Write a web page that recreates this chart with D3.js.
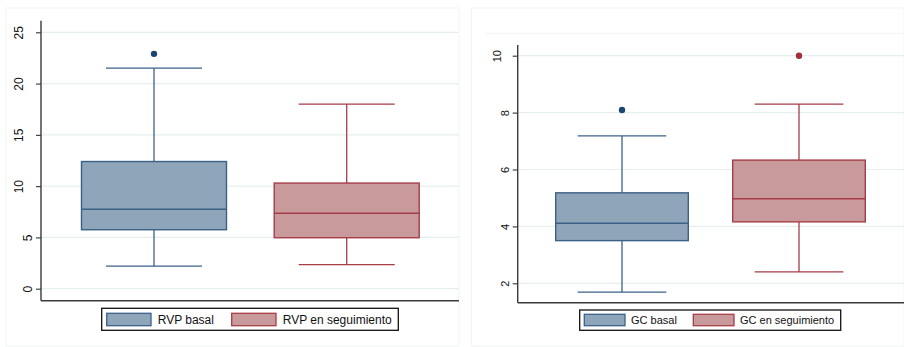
<!DOCTYPE html>
<html><head><meta charset="utf-8">
<script src="https://cdn.jsdelivr.net/npm/d3@7"></script>
<style>body{margin:0;background:#fff;}svg{display:block;font-family:"Liberation Sans",Arial,sans-serif;}</style>
</head><body>
<script>
// ---- data ----
const rvpCategories = ["RVP basal", "RVP en seguimiento"];
const rvpMin     = [2.2, 2.35];
const rvpQ1      = [5.75, 4.97];
const rvpMedian  = [7.75, 7.35];
const rvpQ3      = [12.4, 10.3];
const rvpMax     = [21.5, 18.0];
const rvpOutliers = [[22.9], []];
const rvpTicks   = [0, 5, 10, 15, 20, 25];

const gcCategories = ["GC basal", "GC en seguimiento"];
const gcMin      = [1.69, 2.4];
const gcQ1       = [3.5, 4.16];
const gcMedian   = [4.11, 4.97];
const gcQ3       = [5.18, 6.33];
const gcMax      = [7.18, 8.3];
const gcOutliers = [[8.09], [10.0]];
const gcTicks    = [2, 4, 6, 8, 10];

const fills   = ["#8fa5b9", "#c99a9c"];
const strokes = ["#3b6187", "#a63d47"];
const dots    = ["#1a476f", "#a1303a"];

const W = 904, H = 347;
const svg = d3.select("body").append("svg").attr("width", W).attr("height", H);

function panel(cfg) {
  const g = svg.append("g");
  // faint panel frame
  g.append("rect").attr("x", cfg.frame[0]).attr("y", cfg.frame[1])
    .attr("width", cfg.frame[2] - cfg.frame[0]).attr("height", cfg.frame[3] - cfg.frame[1])
    .attr("fill", "#fff").attr("stroke", "#f1f3f3").attr("stroke-width", 1);
  if (cfg.topLine) {
    g.append("line").attr("x1", cfg.topLine[0]).attr("x2", cfg.topLine[1])
      .attr("y1", cfg.topLine[2]).attr("y2", cfg.topLine[2])
      .attr("stroke", "#f1f3f3").attr("stroke-width", 1);
  }
  const y = d3.scaleLinear().domain(cfg.domain).range(cfg.yRange);
  const x = d3.scalePoint().domain(cfg.categories).range(cfg.xRange);

  // gridlines
  g.selectAll(".grid").data(cfg.ticks).join("line")
    .attr("x1", cfg.axisX).attr("x2", cfg.right)
    .attr("y1", d => y(d)).attr("y2", d => y(d))
    .attr("stroke", "#e6efef").attr("stroke-width", 1.2);

  // y axis via d3
  const axis = d3.axisLeft(y).tickValues(cfg.ticks).tickSize(5).tickFormat(d3.format("d"));
  const ag = g.append("g").attr("transform", `translate(${cfg.axisX},0)`).call(axis);
  ag.select(".domain").remove();
  ag.selectAll(".tick line").attr("stroke", "#333").attr("stroke-width", 1.1);
  ag.selectAll(".tick text")
    .attr("fill", "#111")
    .style("font-size", cfg.fs + "px")
    .attr("text-anchor", "middle")
    .attr("dy", 0)
    .attr("x", 0)
    .attr("transform", function(d) {
      const len = String(d).length;
      const bx = -5 - cfg.gap - (len - 1) * cfg.shift;
      return `translate(${bx},0) rotate(-90)`;
    });

  // axes lines
  g.append("line").attr("x1", cfg.axisX).attr("x2", cfg.axisX)
    .attr("y1", cfg.axisTop).attr("y2", cfg.axisBottom)
    .attr("stroke", "#3a3a3a").attr("stroke-width", 1.4);
  g.append("line").attr("x1", cfg.axisX).attr("x2", cfg.right)
    .attr("y1", cfg.axisBottom).attr("y2", cfg.axisBottom)
    .attr("stroke", "#3a3a3a").attr("stroke-width", 1.4);

  const idx = d3.range(cfg.categories.length);
  const bw = cfg.boxW, cw = cfg.capW;
  const bg = g.selectAll(".box").data(idx).join("g");
  // whiskers
  bg.append("line").attr("x1", i => x(cfg.categories[i])).attr("x2", i => x(cfg.categories[i]))
    .attr("y1", i => y(cfg.max[i])).attr("y2", i => y(cfg.q3[i]))
    .attr("stroke", i => strokes[i]).attr("stroke-width", 1.3);
  bg.append("line").attr("x1", i => x(cfg.categories[i])).attr("x2", i => x(cfg.categories[i]))
    .attr("y1", i => y(cfg.q1[i])).attr("y2", i => y(cfg.min[i]))
    .attr("stroke", i => strokes[i]).attr("stroke-width", 1.3);
  // caps
  [cfg.max, cfg.min].forEach(arr => {
    bg.append("line").attr("x1", i => x(cfg.categories[i]) - cw / 2).attr("x2", i => x(cfg.categories[i]) + cw / 2)
      .attr("y1", i => y(arr[i])).attr("y2", i => y(arr[i]))
      .attr("stroke", i => strokes[i]).attr("stroke-width", 1.3);
  });
  // box
  bg.append("rect").attr("x", i => x(cfg.categories[i]) - bw / 2).attr("width", bw)
    .attr("y", i => y(cfg.q3[i])).attr("height", i => y(cfg.q1[i]) - y(cfg.q3[i]))
    .attr("fill", i => fills[i]).attr("stroke", i => strokes[i]).attr("stroke-width", 1.4);
  bg.append("line").attr("x1", i => x(cfg.categories[i]) - bw / 2).attr("x2", i => x(cfg.categories[i]) + bw / 2)
    .attr("y1", i => y(cfg.median[i])).attr("y2", i => y(cfg.median[i]))
    .attr("stroke", i => strokes[i]).attr("stroke-width", 1.4);
  // outliers
  idx.forEach(i => {
    g.selectAll(null).data(cfg.outliers[i]).join("circle")
      .attr("cx", x(cfg.categories[i])).attr("cy", d => y(d)).attr("r", 3.2)
      .attr("fill", dots[i]);
  });

  // legend
  const L = cfg.legend;
  g.append("rect").attr("x", L.box[0]).attr("y", L.box[1])
    .attr("width", L.box[2] - L.box[0]).attr("height", L.box[3] - L.box[1])
    .attr("fill", "#fff").attr("stroke", "#111").attr("stroke-width", 1.3);
  idx.forEach(i => {
    g.append("rect").attr("x", L.sw[i]).attr("y", L.swY[0])
      .attr("width", L.swW).attr("height", L.swY[1] - L.swY[0])
      .attr("fill", fills[i]).attr("stroke", strokes[i]).attr("stroke-width", 1.3);
    g.append("text").attr("x", L.tx[i]).attr("y", L.ty)
      .style("font-size", cfg.fs + "px").attr("fill", "#111")
      .text(cfg.categories[i]);
  });
}

panel({
  frame: [6, 8, 459, 346],
  categories: rvpCategories, min: rvpMin, q1: rvpQ1, median: rvpMedian, q3: rvpQ3, max: rvpMax,
  outliers: rvpOutliers, ticks: rvpTicks,
  domain: [0, 25], yRange: [288.7, 32.3], xRange: [154, 346.7],
  axisX: 41, axisTop: 20.7, axisBottom: 300.7, right: 459,
  boxW: 145, capW: 96, fs: 12, gap: 4.3, shift: 9,
  legend: { box: [101.7, 308.3, 398.3, 330.3], sw: [106.7, 231.7], swW: 44.3, swY: [313.3, 325.7],
            tx: [157.7, 282.7], ty: 324 }
});

panel({
  frame: [471.7, 8, 904, 346],
  topLine: [486, 904, 33.3],
  categories: gcCategories, min: gcMin, q1: gcQ1, median: gcMedian, q3: gcQ3, max: gcMax,
  outliers: gcOutliers, ticks: gcTicks,
  domain: [2, 10], yRange: [283.3, 55.7], xRange: [622, 799],
  axisX: 517.7, axisTop: 45, axisBottom: 302.7, right: 904,
  boxW: 132.6, capW: 88.6, fs: 11, gap: 3.7, shift: 8.3,
  legend: { box: [579.7, 310, 840.7, 330.3], sw: [584.3, 693.3], swW: 40.7, swY: [314.3, 325.7],
            tx: [631, 740], ty: 324 }
});
</script>
</body></html>
